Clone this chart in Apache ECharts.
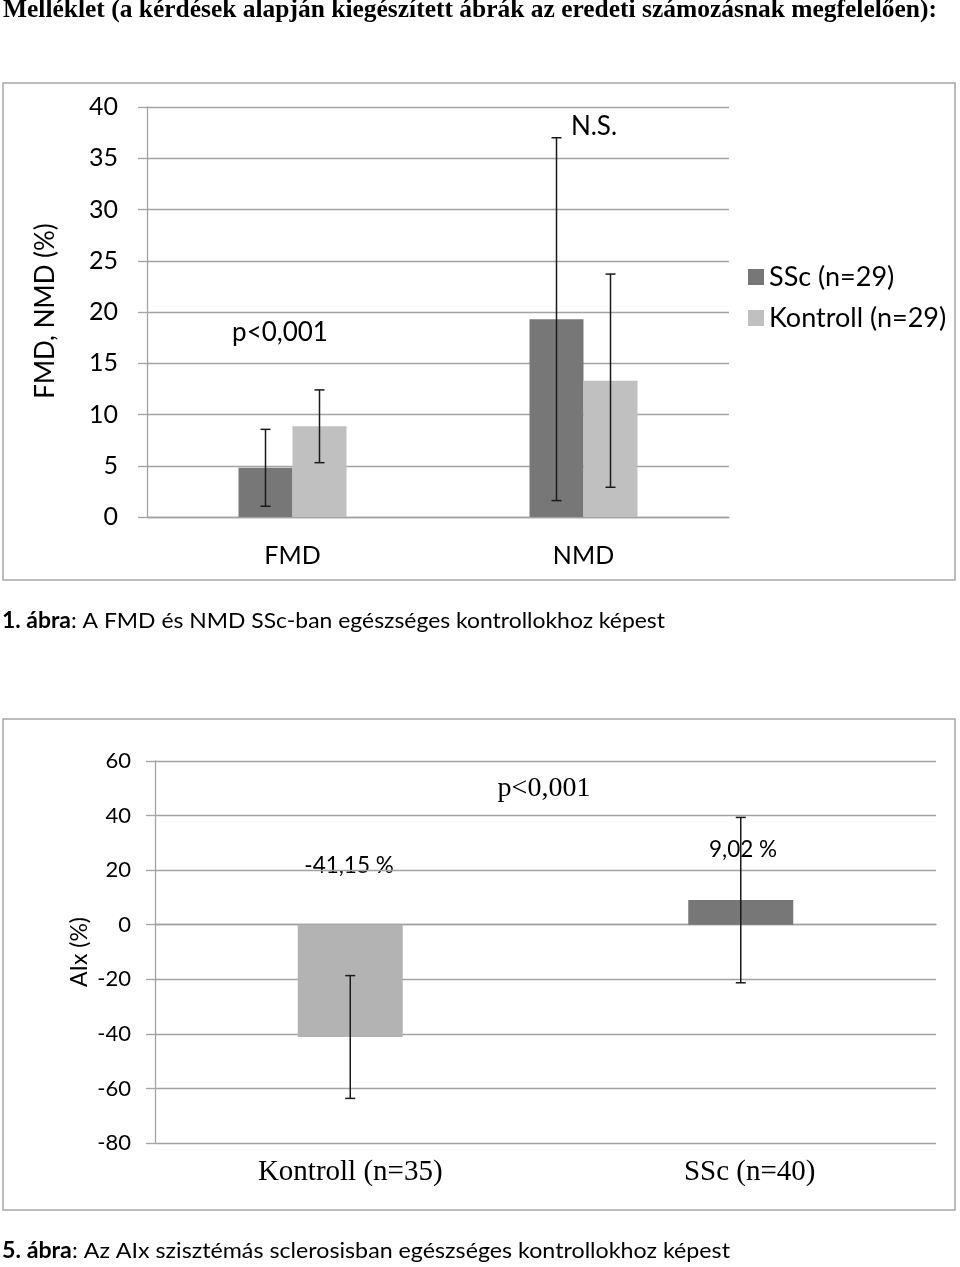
<!DOCTYPE html>
<html><head><meta charset="utf-8">
<script src="https://cdn.jsdelivr.net/npm/echarts@6/dist/echarts.min.js"></script>
<style>html,body{margin:0;padding:0;background:#fff}#c{width:960px;height:1267px}</style>
</head><body><div id="c"></div>
<script>
// ---------- data ----------
const headerText = 'Melléklet (a kérdések alapján kiegészített ábrák az eredeti számozásnak megfelelően):';

const fig1Categories = ['FMD', 'NMD'];
const fig1SeriesNames = ['SSc (n=29)', 'Kontroll (n=29)'];
const fig1SscMean = [4.8, 19.3];
const fig1SscSD = [3.75, 17.7];
const fig1KontrollMean = [8.85, 13.3];
const fig1KontrollSD = [3.55, 10.4];
const fig1YMin = 0, fig1YMax = 40, fig1YInterval = 5;
const fig1YName = 'FMD, NMD (%)';
const fig1Notes = ['p<0,001', 'N.S.'];
const fig1CaptionBold = '1. ábra';
const fig1Caption = ': A FMD és NMD SSc-ban egészséges kontrollokhoz képest';

const fig2Categories = ['Kontroll (n=35)', 'SSc (n=40)'];
const fig2Mean = [-41.15, 9.02];
const fig2SD = [22.5, 30.3];
const fig2YMin = -80, fig2YMax = 60, fig2YInterval = 20;
const fig2YName = 'AIx (%)';
const fig2Note = 'p<0,001';
const fig2CaptionBold = '5. ábra';
const fig2Caption = ': Az AIx szisztémás sclerosisban egészséges kontrollokhoz képest';

// ---------- styles ----------
const SANS = 'Lato';
const SERIF = 'Liberation Serif';
const GRID_C = '#a3a3a3';
const DARK = '#777777';
const LIGHT1 = '#c0c0c0';
const LIGHT2 = '#b3b3b3';
const ERR_C = '#1a1a1a';
const BAR1_W = 54, BAR2_W = 105, CAP = 5;
const FIG2_LABEL_PAD = [0, 0, 0, 18];

const ctx = document.createElement('canvas').getContext('2d');
function tw(text, font) { ctx.font = font; return ctx.measureText(text).width; }

function errRenderer(offset) {
  return function (params, api) {
    const cat = api.value(0), lo = api.value(1), hi = api.value(2);
    const pLo = api.coord([cat, lo]), pHi = api.coord([cat, hi]);
    const x = pLo[0] + offset;
    const st = { stroke: ERR_C, lineWidth: 1.5 };
    return { type: 'group', children: [
      { type: 'line', shape: { x1: x, y1: pHi[1], x2: x, y2: pLo[1] }, style: st },
      { type: 'line', shape: { x1: x - CAP, y1: pHi[1], x2: x + CAP, y2: pHi[1] }, style: st },
      { type: 'line', shape: { x1: x - CAP, y1: pLo[1], x2: x + CAP, y2: pLo[1] }, style: st }
    ]};
  };
}
function errData(mean, sd) { return mean.map((m, i) => [i, m - sd[i], m + sd[i]]); }

function fitted(text, font, x, y, target) {
  const s = target / tw(text, font);
  return { type: 'text', x: x, y: y, scaleX: s,
    style: { text: text, font: font, fill: '#000', align: 'left', verticalAlign: 'middle' } };
}
function caption(bold, rest, y, target) {
  const fb = 'bold 22px ' + SANS, fn = '22px ' + SANS;
  const w1 = tw(bold, fb), w2 = tw(rest, fn);
  const s = target / (w1 + w2);
  return [
    { type: 'text', x: 2, y: y, scaleX: s, style: { text: bold, font: fb, fill: '#000', verticalAlign: 'middle' } },
    { type: 'text', x: 2 + w1 * s, y: y, scaleX: s, style: { text: rest, font: fn, fill: '#000', verticalAlign: 'middle' } }
  ];
}
const fmt = v => v.toFixed(2).replace('.', ',') + ' %';

const axisLineStyle = { color: GRID_C, width: 1.3 };

const option = {
  animation: false,
  legend: {
    data: fig1SeriesNames, orient: 'vertical', left: 743, top: 256,
    itemWidth: 16, itemHeight: 16, itemGap: 9, icon: 'rect',
    textStyle: { fontFamily: SANS, fontSize: 27, color: '#000', lineHeight: 32 }
  },
  grid: [
    { left: 147, top: 107, width: 582, height: 410 },
    { left: 155, top: 761, width: 781, height: 382 }
  ],
  xAxis: [
    { type: 'category', gridIndex: 0, data: fig1Categories,
      axisLine: { lineStyle: axisLineStyle }, axisTick: { length: 9, lineStyle: axisLineStyle },
      axisLabel: { margin: 26, fontFamily: SANS, fontSize: 25, color: '#000' } },
    { type: 'category', gridIndex: 1, data: fig2Categories,
      axisLine: { onZero: true, lineStyle: axisLineStyle }, axisTick: { length: 7, lineStyle: axisLineStyle },
      axisLabel: { show: false } },
    { type: 'category', gridIndex: 1, position: 'bottom',
      data: fig2Categories.map((c, i) => i === 1 ? { value: c, textStyle: { padding: FIG2_LABEL_PAD } } : c),
      axisLine: { show: false, onZero: false }, axisTick: { show: false },
      axisLabel: { margin: 15, fontFamily: SERIF, fontSize: 29, color: '#000' } }
  ],
  yAxis: [
    { type: 'value', gridIndex: 0, min: fig1YMin, max: fig1YMax, interval: fig1YInterval,
      axisLine: { show: true, lineStyle: axisLineStyle }, axisTick: { show: true, length: 9, lineStyle: axisLineStyle },
      splitLine: { lineStyle: axisLineStyle },
      axisLabel: { margin: 29, fontFamily: SANS, fontSize: 25, color: '#000' } },
    { type: 'value', gridIndex: 1, min: fig2YMin, max: fig2YMax, interval: fig2YInterval,
      axisLine: { show: true, lineStyle: axisLineStyle }, axisTick: { show: true, length: 9, lineStyle: axisLineStyle },
      splitLine: { lineStyle: axisLineStyle },
      axisLabel: { margin: 24, fontFamily: SANS, fontSize: 22, color: '#000' } }
  ],
  series: [
    { name: fig1SeriesNames[0], type: 'bar', xAxisIndex: 0, yAxisIndex: 0, data: fig1SscMean,
      barWidth: BAR1_W, barGap: '0%', itemStyle: { color: DARK } },
    { name: fig1SeriesNames[1], type: 'bar', xAxisIndex: 0, yAxisIndex: 0, data: fig1KontrollMean,
      barWidth: BAR1_W, barGap: '0%', itemStyle: { color: LIGHT1 } },
    { name: 'err1a', type: 'custom', xAxisIndex: 0, yAxisIndex: 0, renderItem: errRenderer(-BAR1_W / 2),
      data: errData(fig1SscMean, fig1SscSD), clip: false, z: 5 },
    { name: 'err1b', type: 'custom', xAxisIndex: 0, yAxisIndex: 0, renderItem: errRenderer(BAR1_W / 2),
      data: errData(fig1KontrollMean, fig1KontrollSD), clip: false, z: 5 },
    { name: 'AIx', type: 'bar', xAxisIndex: 1, yAxisIndex: 1, barWidth: BAR2_W,
      data: fig2Mean.map((v, i) => ({ value: v, itemStyle: { color: i === 0 ? LIGHT2 : DARK } })) },
    { name: 'err2', type: 'custom', xAxisIndex: 1, yAxisIndex: 1, renderItem: errRenderer(0),
      data: errData(fig2Mean, fig2SD), clip: false, z: 5 }
  ],
  graphic: [
    { type: 'rect', shape: { x: 3, y: 83, width: 952, height: 497 }, style: { fill: 'none', stroke: '#a6a6a6', lineWidth: 1.5 }, z: -1 },
    { type: 'rect', shape: { x: 3, y: 719, width: 952, height: 491 }, style: { fill: 'none', stroke: '#a6a6a6', lineWidth: 1.5 }, z: -1 },
    fitted(headerText, 'bold 25px ' + SERIF, 3, 11, 934),
    ...caption(fig1CaptionBold, fig1Caption, 621, 663),
    ...caption(fig2CaptionBold, fig2Caption, 1251, 728),
    { type: 'text', x: 46, y: 311, rotation: Math.PI / 2,
      style: { text: fig1YName, font: '26px ' + SANS, fill: '#000', align: 'center', verticalAlign: 'middle' } },
    { type: 'text', x: 80, y: 952, rotation: Math.PI / 2,
      style: { text: fig2YName, font: '23px ' + SANS, fill: '#000', align: 'center', verticalAlign: 'middle' } },
    { type: 'text', x: 280, y: 333, style: { text: fig1Notes[0], font: '26px ' + SANS, fill: '#000', align: 'center', verticalAlign: 'middle' } },
    { type: 'text', x: 594, y: 127, style: { text: fig1Notes[1], font: '26px ' + SANS, fill: '#000', align: 'center', verticalAlign: 'middle' } },
    { type: 'text', x: 544, y: 789, style: { text: fig2Note, font: '28px ' + SERIF, fill: '#000', align: 'center', verticalAlign: 'middle' } },
    { type: 'text', x: 349, y: 866, style: { text: fmt(fig2Mean[0]), font: '22.5px ' + SANS, fill: '#000', align: 'center', verticalAlign: 'middle' } },
    { type: 'text', x: 743, y: 850, style: { text: fmt(fig2Mean[1]), font: '22.5px ' + SANS, fill: '#000', align: 'center', verticalAlign: 'middle' } }
  ]
};
const chart = echarts.init(document.getElementById('c'), null, { renderer: 'canvas' });
chart.setOption(option);
</script>
</body></html>
